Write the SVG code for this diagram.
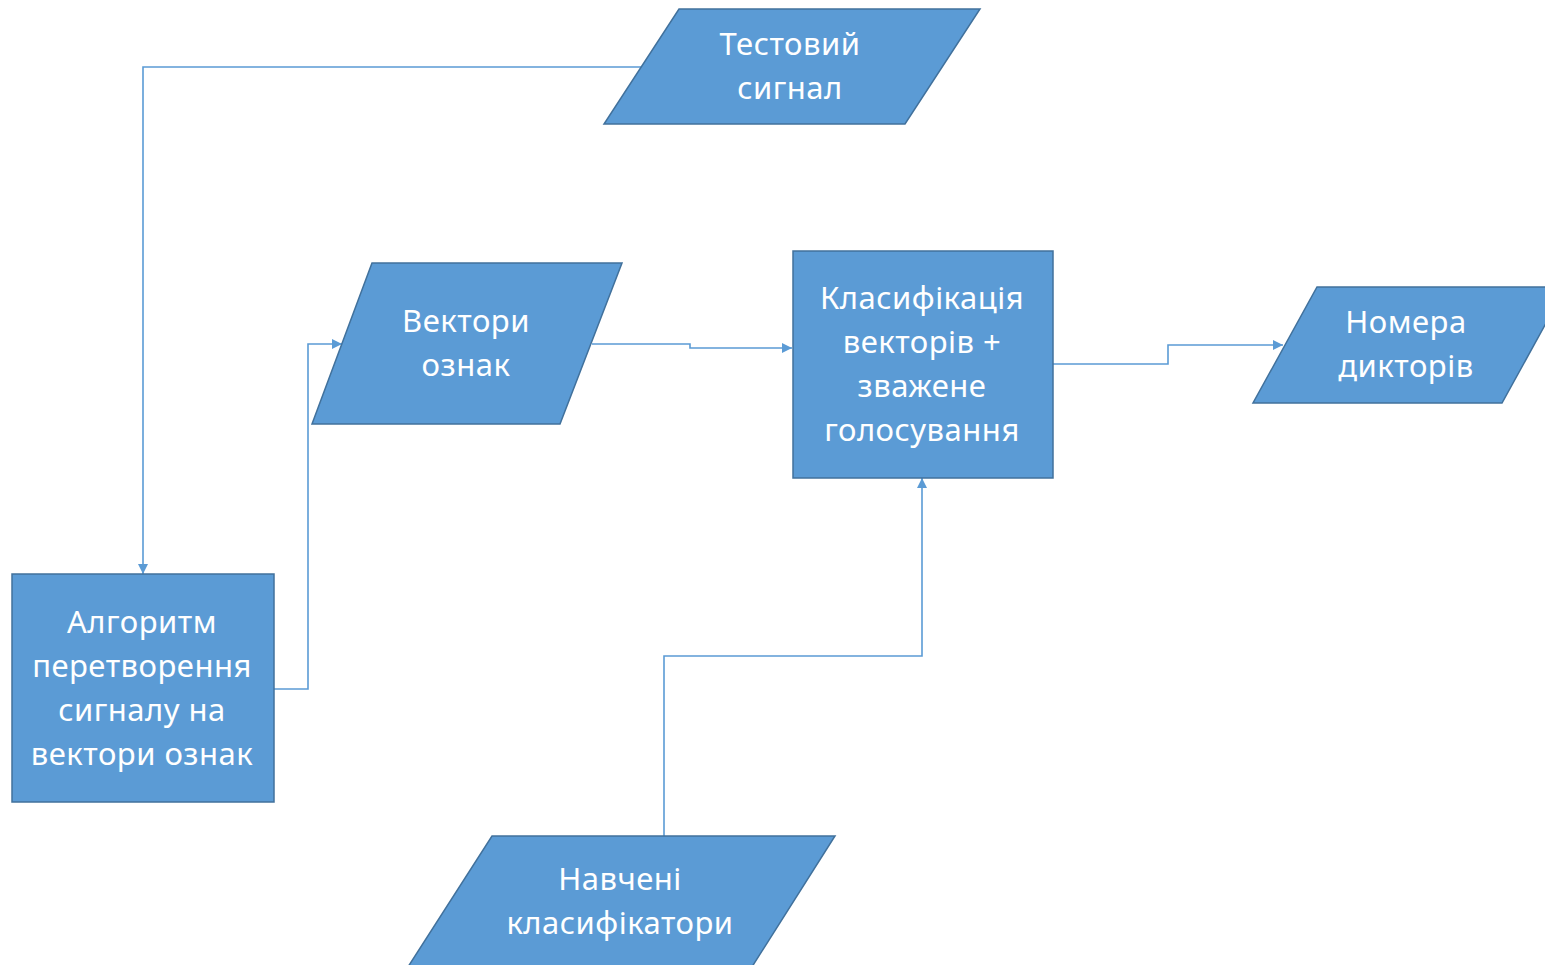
<svg xmlns="http://www.w3.org/2000/svg" width="1545" height="965" viewBox="0 0 1545 965">
<style>
.shape{fill:#5b9bd5;stroke:#41719c;stroke-width:1.5}
.lbl{fill:#ffffff;font-family:"Noto Sans","Open Sans","DejaVu Sans",sans-serif;font-size:31px;letter-spacing:0.5px;text-anchor:middle}
.conn{fill:none;stroke:#5b9bd5;stroke-width:1.6}
</style>
<defs>
<marker id="arr" viewBox="0 0 10 10" refX="10" refY="5" markerWidth="10" markerHeight="10" markerUnits="userSpaceOnUse" orient="auto">
<path d="M0,0 L10,5 L0,10 Z" fill="#5b9bd5"/>
</marker>
</defs>
<rect width="1545" height="965" fill="#ffffff"/>
<g id="connectors">
<path class="conn" d="M641,67 H143 V574" marker-end="url(#arr)"/>
<path class="conn" d="M274,689 H308 V344 H342" marker-end="url(#arr)"/>
<path class="conn" d="M592,344 H690 V348 H792" marker-end="url(#arr)"/>
<path class="conn" d="M1053,364 H1168 V345 H1283" marker-end="url(#arr)"/>
<path class="conn" d="M664,836 V656 H922 V478" marker-end="url(#arr)"/>
</g>
<g id="test-signal">
<polygon class="shape" points="679,9 980,9 905,124 604,124"/>
<text class="lbl" x="790" y="55">Тестовий</text>
<text class="lbl" x="790" y="99">сигнал</text>
</g>
<g id="feature-vectors">
<polygon class="shape" points="372,263 622,263 560,424 312,424"/>
<text class="lbl" x="466" y="332">Вектори</text>
<text class="lbl" x="466" y="376">ознак</text>
</g>
<g id="classification">
<rect class="shape" x="793" y="251" width="260" height="227"/>
<text class="lbl" x="922" y="309">Класифікація</text>
<text class="lbl" x="922" y="353">векторів +</text>
<text class="lbl" x="922" y="397">зважене</text>
<text class="lbl" x="922" y="441">голосування</text>
</g>
<g id="speaker-numbers">
<polygon class="shape" points="1317,287 1566,287 1502,403 1253,403"/>
<text class="lbl" x="1406" y="333">Номера</text>
<text class="lbl" x="1406" y="377">дикторів</text>
</g>
<g id="algorithm">
<rect class="shape" x="12" y="574" width="262" height="228"/>
<text class="lbl" x="142" y="633">Алгоритм</text>
<text class="lbl" x="142" y="677">перетворення</text>
<text class="lbl" x="142" y="721">сигналу на</text>
<text class="lbl" x="142" y="765">вектори ознак</text>
</g>
<g id="trained-classifiers">
<polygon class="shape" points="492,836 835,836 750,970 406,970"/>
<text class="lbl" x="620" y="890">Навчені</text>
<text class="lbl" x="620" y="934">класифікатори</text>
</g>
</svg>
